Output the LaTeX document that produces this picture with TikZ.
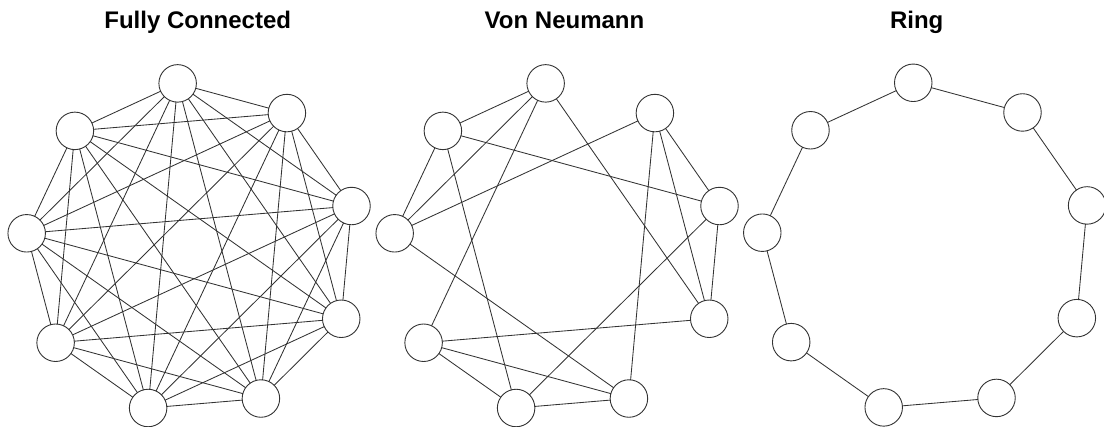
\documentclass[tikz,border=0pt]{standalone}
\usepackage{fontspec}
\setmainfont{Liberation Sans}
\usetikzlibrary{positioning,calc}
\definecolor{ink}{HTML}{333333}
\tikzset{
    every picture/.style={line cap=round,line join=round},
    peer/.style={draw=ink,circle,fill=white,line width=0.9pt,
      minimum size=37.5pt,inner sep=0pt,outer sep=0pt},
    link/.style={draw=ink,line width=0.85pt},
    graphtitle/.style={font=\bfseries\fontsize{24}{28}\selectfont,anchor=base}
}

\begin{document}
\begin{tikzpicture}[x=1pt,y=-1pt]
  \useasboundingbox (0,0) rectangle (1104,427);
  \coordinate (fc) at (191.5,248.3);
  \coordinate (vn) at (559.5,248.3);
  \coordinate (ri) at (927.1,247.7);
  \node[graphtitle] (fctitle) at (197.7,28.3) {Fully Connected};
  \node[graphtitle] (vntitle) at (564.5,28.3) {Von Neumann};
  \node[graphtitle] (rititle) at (916.7,28.3) {Ring};
  % nine peers on each ring
  \foreach \g in {fc,vn,ri}{
    \foreach \i in {0,...,8}{
      \node[peer] (\g\i) at ($(\g)+({94.8-40*\i}:165.5pt)$) {};
    }
  }
  % fully connected: every pair
  \foreach \i in {0,...,8}{
    \foreach \j in {0,...,8}{
      \ifnum\i<\j \draw[link] (fc\i)--(fc\j); \fi
    }
  }
  % von neumann: four neighbours each
  \foreach \a/\b in {0/8,0/7,0/6,0/3,1/7,1/2,1/3,1/4,2/8,2/3,2/5,3/6,4/5,4/6,4/7,5/6,5/8,7/8}{
    \draw[link] (vn\a)--(vn\b);
  }
  % ring
  \foreach \i [evaluate=\i as \j using {int(mod(\i+1,9))}] in {0,...,8}{
    \draw[link] (ri\i)--(ri\j);
  }
\end{tikzpicture}
\end{document}
